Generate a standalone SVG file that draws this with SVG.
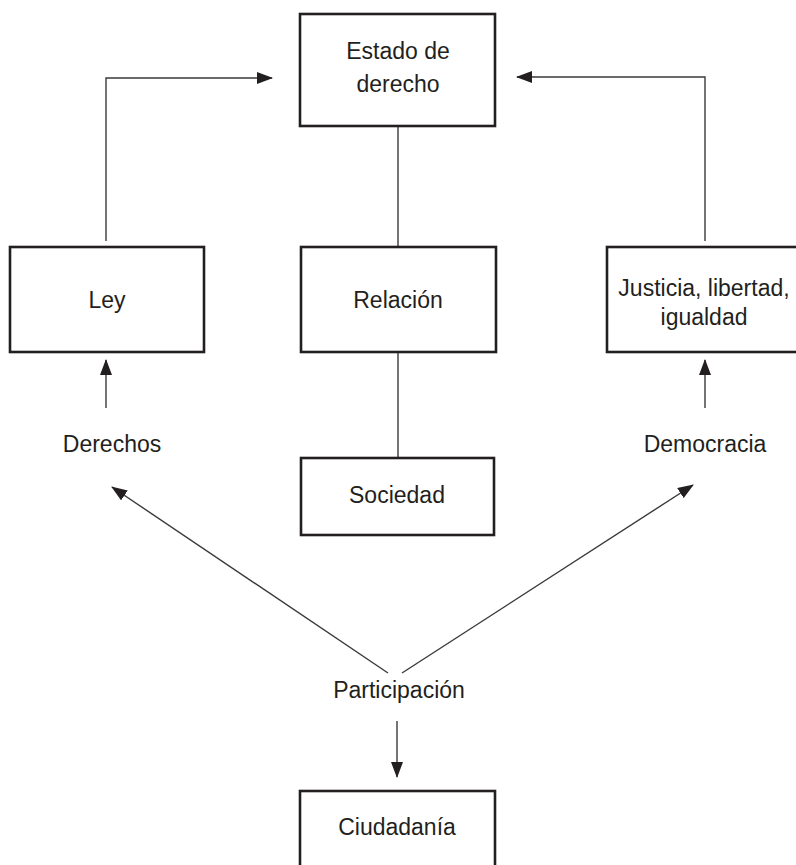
<svg xmlns="http://www.w3.org/2000/svg" width="796" height="865" viewBox="0 0 796 865">
<defs>
<style>
.box{fill:#fff;stroke:#231f20;stroke-width:2.6}
.t{font-family:"Liberation Sans",Arial,sans-serif;font-size:23px;fill:#231f20;text-anchor:middle}
.c{fill:none;stroke:#3a3a3a;stroke-width:1.4}
</style>
<marker id="ah" viewBox="0 0 16 12" refX="15" refY="6" markerWidth="16" markerHeight="12" markerUnits="userSpaceOnUse" orient="auto">
<path d="M0,0 L16,6 L0,12 Z" fill="#231f20"/>
</marker>
</defs>
<rect width="796" height="865" fill="#fff"/>
<g id="connectors">
<path class="c" d="M106,241 V78 H272" marker-end="url(#ah)"/>
<path class="c" d="M705,241 V77 H517" marker-end="url(#ah)"/>
<path class="c" d="M398,126 V247"/>
<path class="c" d="M398,352 V458"/>
<path class="c" d="M106,408 V360" marker-end="url(#ah)"/>
<path class="c" d="M705,408 V360" marker-end="url(#ah)"/>
<path class="c" d="M388,673 L112,487" marker-end="url(#ah)"/>
<path class="c" d="M402,673 L693,485" marker-end="url(#ah)"/>
<path class="c" d="M397,721 V777" marker-end="url(#ah)"/>
</g>
<g id="estado">
<rect class="box" x="300" y="14" width="195" height="112"/>
<text class="t" x="398" y="59">Estado de</text>
<text class="t" x="398" y="92">derecho</text>
</g>
<g id="ley">
<rect class="box" x="10" y="247" width="194" height="105"/>
<text class="t" x="107" y="308">Ley</text>
</g>
<g id="relacion">
<rect class="box" x="301" y="247" width="195" height="105"/>
<text class="t" x="398" y="308">Relación</text>
</g>
<g id="justicia">
<rect class="box" x="607" y="247" width="192" height="105"/>
<text class="t" x="704" y="296">Justicia, libertad,</text>
<text class="t" x="704" y="325">igualdad</text>
</g>
<g id="derechos">
<text class="t" x="112" y="452">Derechos</text>
</g>
<g id="democracia">
<text class="t" x="705" y="452">Democracia</text>
</g>
<g id="sociedad">
<rect class="box" x="301" y="458" width="193" height="77"/>
<text class="t" x="397" y="503">Sociedad</text>
</g>
<g id="participacion">
<text class="t" x="399" y="698">Participación</text>
</g>
<g id="ciudadania">
<rect class="box" x="300" y="791" width="195" height="80"/>
<text class="t" x="397" y="835">Ciudadanía</text>
</g>
</svg>
